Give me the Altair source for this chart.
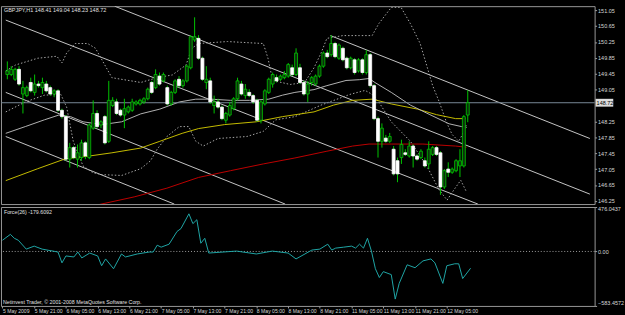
import altair as alt
import pandas as pd

FONT = "Liberation Sans, Arial, sans-serif"

# ---- GBPJPY H1 candles (bar 0 = 5 May 2009 13:00) ----
opens = [149.43, 149.43, 149.31, 149.56, 148.94, 148.90, 149.23, 148.98, 149.19, 149.10,
         149.19, 149.10, 148.94, 149.02, 148.53, 148.37, 147.30, 147.59, 147.30, 147.34,
         147.71, 147.34, 148.08, 148.45, 148.16, 148.37, 147.75, 148.65, 148.74, 148.53,
         148.41, 148.49, 148.53, 148.69, 148.69, 148.74, 148.82, 149.23, 149.10, 149.39,
         149.27, 149.10, 148.69, 148.98, 149.31, 149.15, 149.27, 149.60, 150.30, 150.34,
         149.84, 149.23, 149.27, 148.65, 148.74, 148.61, 148.28, 148.41, 148.57, 148.82,
         149.19, 148.90, 148.98, 148.90, 148.78, 148.28, 148.69, 148.98, 149.19, 149.35,
         149.31, 149.35, 149.39, 149.60, 149.43, 149.60, 149.23, 148.94, 149.23, 149.19,
         149.39, 149.64, 149.97, 149.93, 150.21, 149.84, 150.09, 149.84, 149.60, 149.80,
         149.52, 149.80, 149.48, 149.93, 149.15, 148.32, 147.75, 147.83, 147.75, 147.55,
         147.26, 147.34, 147.46, 147.38, 147.63, 147.38, 147.34, 147.26, 147.18, 147.42,
         147.59, 147.46, 146.60, 147.05, 146.97, 147.01, 147.13, 147.13, 148.41]
highs = [149.76, 149.64, 149.60, 149.64, 149.27, 149.15, 149.35, 149.43, 149.27, 149.35,
         149.27, 149.15, 149.06, 149.06, 148.57, 148.41, 147.71, 147.63, 147.67, 147.79,
         147.75, 148.20, 148.78, 148.53, 148.28, 148.41, 149.27, 148.86, 148.82, 148.57,
         148.82, 148.65, 148.82, 148.78, 148.82, 148.86, 149.10, 149.27, 149.56, 149.48,
         149.48, 149.15, 149.02, 149.31, 149.39, 149.31, 149.68, 150.42, 150.87, 150.42,
         149.88, 149.64, 149.35, 148.90, 148.82, 148.65, 148.49, 148.74, 148.86, 149.35,
         149.27, 149.19, 149.06, 148.94, 148.82, 148.78, 149.06, 149.35, 149.48, 149.43,
         149.43, 149.52, 149.72, 149.68, 150.09, 149.70, 149.27, 149.27, 149.39, 149.43,
         149.68, 150.01, 150.05, 150.42, 150.25, 150.21, 150.13, 149.88, 149.88, 149.84,
         149.84, 149.84, 150.05, 149.97, 149.19, 148.37, 148.20, 147.91, 147.96, 147.63,
         147.34, 147.79, 147.55, 147.75, 147.67, 147.42, 147.55, 147.34, 147.75, 147.63,
         147.63, 147.50, 147.05, 147.22, 147.09, 147.30, 147.55, 148.41, 149.04]
lows = [149.31, 149.39, 149.27, 149.15, 148.45, 148.86, 148.98, 148.90, 149.10, 148.94,
        148.98, 148.90, 148.86, 148.49, 148.32, 147.26, 147.09, 147.30, 147.09, 147.26,
        147.30, 147.30, 148.04, 148.08, 148.08, 147.67, 147.71, 148.61, 148.41, 148.37,
        148.08, 148.45, 148.49, 148.65, 148.65, 148.69, 148.78, 148.94, 149.06, 149.15,
        149.23, 148.65, 148.65, 148.94, 149.10, 149.10, 149.23, 149.56, 150.25, 149.80,
        149.27, 149.06, 148.69, 148.45, 148.57, 148.28, 148.20, 148.37, 148.53, 148.78,
        148.90, 148.82, 148.86, 148.69, 148.24, 148.20, 148.65, 148.94, 149.10, 149.23,
        149.27, 149.31, 149.35, 149.39, 149.39, 149.19, 148.90, 148.74, 149.15, 149.15,
        149.35, 149.60, 149.84, 149.88, 149.84, 149.80, 149.76, 149.56, 149.56, 149.43,
        149.48, 149.43, 149.43, 149.10, 148.28, 147.34, 147.59, 147.71, 147.71, 146.89,
        146.72, 147.18, 147.38, 147.34, 147.09, 147.26, 147.30, 147.09, 147.05, 147.38,
        147.38, 146.40, 146.55, 146.85, 146.93, 146.97, 146.85, 147.09, 148.23]
closes = [149.52, 149.56, 149.56, 149.19, 149.10, 149.10, 149.02, 149.19, 149.15, 149.23,
          149.02, 148.94, 149.02, 148.53, 148.37, 147.30, 147.59, 147.34, 147.46, 147.71,
          147.38, 148.16, 148.45, 148.12, 148.24, 147.71, 148.78, 148.78, 148.45, 148.41,
          148.57, 148.61, 148.74, 148.74, 148.78, 148.82, 149.06, 148.98, 149.43, 149.19,
          149.43, 148.69, 148.98, 149.27, 149.15, 149.27, 149.64, 150.38, 150.38, 149.84,
          149.31, 149.31, 148.74, 148.74, 148.61, 148.32, 148.45, 148.65, 148.82, 149.27,
          148.94, 149.06, 148.90, 148.74, 148.28, 148.74, 149.02, 149.31, 149.43, 149.27,
          149.39, 149.43, 149.68, 149.43, 149.97, 149.23, 148.94, 149.19, 149.35, 149.39,
          149.64, 149.97, 149.88, 150.21, 149.88, 150.17, 149.80, 149.60, 149.84, 149.48,
          149.80, 149.48, 149.93, 149.15, 148.32, 147.75, 148.08, 147.75, 147.87, 146.93,
          146.93, 147.67, 147.42, 147.63, 147.38, 147.30, 147.50, 147.13, 147.55, 147.59,
          147.42, 146.60, 147.01, 146.97, 147.05, 147.26, 147.26, 148.37, 148.72]

# ---- indicator lines (bar, price) ----
bb_up_bar = [-0.4, 2.1, 7.8, 12.7, 14.0, 15.2, 17.4, 20.6, 22.6, 24.3, 26.8, 34.2, 38.4, 42.3,
             45.8, 47.3, 49.0, 56.4, 65.6, 66.8, 68.0, 72.5, 76.2, 78.6, 80.4, 81.9, 86.0,
             90.2, 93.5, 95.2, 98.4, 100.9, 103.3, 105.8, 107.5, 109.0, 110.7, 112.5, 114.0,
             115.7, 117.7]
bb_up_val = [149.52, 149.67, 149.84, 149.89, 149.72, 149.97, 150.21, 150.21, 150.09, 149.79,
             149.35, 149.23, 149.35, 149.42, 149.67, 150.09, 150.21, 150.26, 150.21, 149.84,
             149.28, 149.18, 149.23, 149.60, 149.97, 150.34, 150.41, 150.41, 150.41, 150.71,
             151.12, 151.12, 150.71, 150.21, 149.65, 149.15, 148.74, 148.24, 147.92, 147.75,
             148.12]
bb_lo_bar = [-0.4, 4.6, 9.5, 13.7, 15.2, 16.9, 19.4, 21.9, 24.3, 29.3, 34.2, 36.7, 38.4, 40.9,
             44.1, 46.5, 48.3, 50.2, 54.0, 61.4, 65.6, 68.8, 73.7, 80.4, 87.8, 91.7, 93.5,
             95.2, 98.4, 103.3, 107.5, 110.7, 112.7, 114.4, 116.2, 117.7]
bb_lo_val = [148.49, 148.74, 148.91, 148.93, 148.61, 147.75, 147.13, 146.96, 146.91, 146.89,
             147.06, 147.26, 147.55, 147.87, 148.12, 148.12, 147.75, 147.63, 147.82, 147.87,
             148.00, 148.29, 148.37, 148.66, 148.93, 149.03, 148.93, 148.74, 148.24, 147.75,
             147.13, 146.52, 146.27, 146.52, 146.77, 146.47]
ma_gray_bar = [-0.4, 4.6, 9.5, 13.2, 16.2, 19.4, 24.3, 29.3, 34.2, 39.1, 44.1, 48.3, 52.2,
               57.2, 62.1, 67.0, 70.5, 73.7, 78.6, 81.9, 86.8, 90.2, 92.7, 94.2, 98.4, 103.3,
               108.3, 113.2, 116.4, 117.7]
ma_gray_val = [147.95, 148.12, 148.29, 148.41, 148.37, 148.24, 148.17, 148.24, 148.44, 148.56,
               148.74, 148.81, 148.81, 148.78, 148.78, 148.81, 148.91, 148.98, 149.05, 149.15,
               149.28, 149.30, 149.33, 149.23, 148.98, 148.66, 148.42, 148.19, 148.12, 148.14]
ma_yel_bar = [-0.4, 7.8, 14.9, 21.1, 26.8, 34.2, 39.1, 44.8, 49.0, 55.7, 63.8, 70.5, 78.6,
              83.6, 88.5, 93.5, 98.4, 105.1, 110.0, 114.9, 117.4]
ma_yel_val = [146.76, 147.06, 147.31, 147.38, 147.46, 147.58, 147.75, 147.95, 148.07, 148.17,
              148.24, 148.37, 148.49, 148.66, 148.78, 148.81, 148.69, 148.56, 148.42, 148.32,
              148.32]
ma_red_bar = [19.4, 32.5, 40.9, 49.0, 57.2, 65.6, 73.7, 81.9, 88.5, 92.7, 98.4, 106.5, 114.9, 117.7]
ma_red_val = [146.07, 146.35, 146.57, 146.84, 147.01, 147.18, 147.33, 147.50, 147.63, 147.68,
              147.68, 147.68, 147.63, 147.60]

# ---- channel lines: start/end (bar, price) ----
ch_id = ["a", "a", "b", "b", "c", "c", "d", "d", "e", "e"]
ch_bar = [27.5, 149.3, -0.4, 120.6, -0.4, 71.2, -0.4, 42.8, 82.8, 149.3]
ch_val = [151.15, 146.42, 150.80, 146.17, 148.98, 146.17, 147.87, 146.17, 150.41, 147.82]

# ---- Force index (26) ----
force_bar = [0, 2, 3, 4, 6, 8, 10, 14, 15, 16, 18, 19, 20, 22, 24, 25, 26, 28, 30, 31, 34, 37,
             38, 39, 40, 42, 44, 45, 47, 48, 49, 50, 51, 52, 59, 64, 68, 72, 74, 78, 80, 82, 83,
             84, 86, 88, 89, 90, 91, 92, 93, 94, 95, 96, 98, 99, 100, 102, 104, 106, 108, 109,
             111, 112, 114, 115, 116, 118]
force_val = [120, 183, 141, 120, 25, 57, 25, -6, -122, -48, -59, -6, -69, -17, -48, -153, -80,
             -185, -27, -59, -27, -6, -6, 67, 46, 78, 214, 245, 403, 298, 340, 88, 141, -17, 4,
             -27, 4, -17, -80, 15, 25, 78, 15, 36, 46, 57, 36, 78, 36, 141, 4, -185, -279, -216,
             -248, -510, -342, -143, -174, -101, -80, -122, -342, -153, -132, -132, -290,
             -179.6092]

price_ticks = [151.05, 150.65, 150.25, 149.85, 149.45, 149.05, 148.25, 147.85, 147.45,
               147.05, 146.65, 146.25]
force_ticks = [476.0437, 0, -583.4572]
time_ticks = [0, 8, 16, 24, 32, 40, 48, 56, 64, 72, 80, 88, 96, 104, 112]
time_labels = ["5 May 2009", "5 May 21:00", "6 May 05:00", "6 May 13:00", "6 May 21:00",
               "7 May 05:00", "7 May 13:00", "7 May 21:00", "8 May 05:00", "8 May 13:00",
               "8 May 21:00", "11 May 05:00", "11 May 13:00", "11 May 21:00", "12 May 05:00"]

symbol = "GBPJPY,H1"
force_title = "Force(26) -179.6092"
copyright_txt = "Netinvest Trader, © 2001-2008 MetaQuotes Software Corp."

# ---------------- build ----------------
GREEN = "#00c800"
TXT = "#d8d8d8"
FS = 5.6
W, H1, H2 = 606, 202, 101

df = pd.DataFrame({"i": list(range(len(opens))), "open": opens, "high": highs,
                   "low": lows, "close": closes})

def series(name, bars, vals):
    return pd.DataFrame({"bar": bars, "price": vals, "s": name})

bands = pd.concat([series("up", bb_up_bar, bb_up_val), series("lo", bb_lo_bar, bb_lo_val)])
ma_gray = series("g", ma_gray_bar, ma_gray_val)
ma_yel = series("y", ma_yel_bar, ma_yel_val)
ma_red = series("r", ma_red_bar, ma_red_val)
chan = pd.DataFrame({"bar": ch_bar, "price": ch_val, "s": ch_id})

xsc = alt.Scale(domain=[-0.37, 149.26], nice=False, zero=False)
ysc = alt.Scale(domain=[146.17, 151.15], nice=False, zero=False)

yaxis = alt.Axis(orient="right", values=price_ticks, format=".2f", grid=False, domain=False,
                 tickColor="#a0a0a0", tickSize=2, labelColor=TXT, labelFontSize=FS,
                 labelFont=FONT, labelPadding=1, title=None)

def X(f):
    return alt.X(f, type="quantitative", scale=xsc, axis=None, title=None)

def Y(f):
    return alt.Y(f, type="quantitative", scale=ysc, axis=yaxis, title=None)

wicks = alt.Chart(df).mark_rule(color=GREEN, strokeWidth=1).encode(
    x=X("i"), y=Y("low"), y2="high:Q")
bodies = alt.Chart(df).mark_bar(size=3, strokeWidth=0.8).encode(
    x=X("i"), y=Y("open"), y2="close:Q",
    fill=alt.condition("datum.close >= datum.open", alt.value("#0a300a"), alt.value("#ffffff")),
    stroke=alt.condition("datum.close >= datum.open", alt.value(GREEN), alt.value("#ffffff")))

band_l = alt.Chart(bands).mark_line(color="#a8a8a8", strokeWidth=1, strokeDash=[1.5, 2],
                                    clip=True).encode(x=X("bar"), y=Y("price"), detail="s:N")
gray_l = alt.Chart(ma_gray).mark_line(color="#b4b4b4", strokeWidth=1, clip=True).encode(
    x=X("bar"), y=Y("price"))
yel_l = alt.Chart(ma_yel).mark_line(color="#c8be00", strokeWidth=1, clip=True).encode(
    x=X("bar"), y=Y("price"))
red_l = alt.Chart(ma_red).mark_line(color="#c00000", strokeWidth=1, clip=True).encode(
    x=X("bar"), y=Y("price"))
chan_l = alt.Chart(chan).mark_line(color="#c8c8c8", strokeWidth=1, clip=True).encode(
    x=X("bar"), y=Y("price"), detail="s:N")

last = pd.DataFrame({"v": [closes[-1]], "lab": [f"{closes[-1]:.2f}"],
                     "t": [f"{symbol}  {opens[-1]:.2f} {highs[-1]:.2f} {lows[-1]:.2f} {closes[-1]:.2f}"]})
bid = alt.Chart(last).mark_rule(color="#7a8a9a", strokeWidth=1).encode(y=Y("v"))
tag_bg = alt.Chart(last).mark_rule(color="#dcdcdc", strokeWidth=8).encode(
    x=alt.value(W + 1), x2=alt.value(W + 19), y=Y("v"))
tag_tx = alt.Chart(last).mark_text(align="left", baseline="middle", fontSize=FS, font=FONT,
                                   color="#000000").encode(
    x=alt.value(W + 2), y=Y("v"), text="lab:N")
title_tx = alt.Chart(last).mark_text(align="left", baseline="middle", fontSize=FS, font=FONT,
                                     color="#e0e0e0").encode(
    x=alt.value(3), y=alt.value(4), text="t:N")

main = alt.layer(chan_l, band_l, red_l, yel_l, gray_l, bid, wicks, bodies, tag_bg, tag_tx,
                 title_tx).properties(width=W, height=H1)

# ---- force panel ----
fdf = pd.DataFrame({"bar": force_bar, "val": force_val})
fsc = alt.Scale(domain=[force_ticks[2], force_ticks[0]], nice=False, zero=False)
label_js = "[" + ",".join(f"'{t}'" for t in time_labels) + "][round(datum.value/8)]"
xaxis = alt.Axis(values=time_ticks, labelExpr=label_js, labelAlign="left", labelOverlap=False,
                 labelFlush=False, grid=False, domain=False, tickColor="#a0a0a0", tickSize=2,
                 labelColor=TXT, labelFontSize=5.2, labelFont=FONT, labelPadding=1,
                 title=None)
faxis = alt.Axis(orient="right", values=force_ticks, labelFlush=True,
                 labelExpr="datum.value == 0 ? '0.00' : format(datum.value, '.4f')",
                 grid=False, domain=False, tickColor="#a0a0a0", tickSize=2,
                 labelColor=TXT, labelFontSize=FS, labelFont=FONT, labelPadding=1,
                 title=None)

def FX(f):
    return alt.X(f, type="quantitative", scale=xsc, axis=xaxis, title=None)

def FY(f):
    return alt.Y(f, type="quantitative", scale=fsc, axis=faxis, title=None)

ftxt = pd.DataFrame({"z": [0.0], "t1": [force_title], "t2": [copyright_txt]})
fline = alt.Chart(fdf).mark_line(color="#20a8a8", strokeWidth=1, clip=True).encode(
    x=FX("bar"), y=FY("val"))
fzero = alt.Chart(ftxt).mark_rule(color="#a0a0a0", strokeWidth=1, strokeDash=[1, 2]).encode(
    y=FY("z"))
ft1 = alt.Chart(ftxt).mark_text(align="left", baseline="middle", fontSize=5.4, font=FONT,
                                color="#e0e0e0").encode(x=alt.value(3), y=alt.value(5), text="t1:N")
ft2 = alt.Chart(ftxt).mark_text(align="left", baseline="middle", fontSize=5.4, font=FONT,
                                color="#e0e0e0").encode(x=alt.value(2), y=alt.value(H2 - 4), text="t2:N")
force = alt.layer(fzero, fline, ft1, ft2).properties(width=W, height=H2)

chart = alt.vconcat(main, force, spacing=1).properties(
    background="#000000", padding={"left": 0, "top": 2, "right": 0, "bottom": 0}
).configure_view(stroke="#9a9a9a", strokeWidth=1)

chart.save("out.html", embed_options={"renderer": "svg", "actions": False})
